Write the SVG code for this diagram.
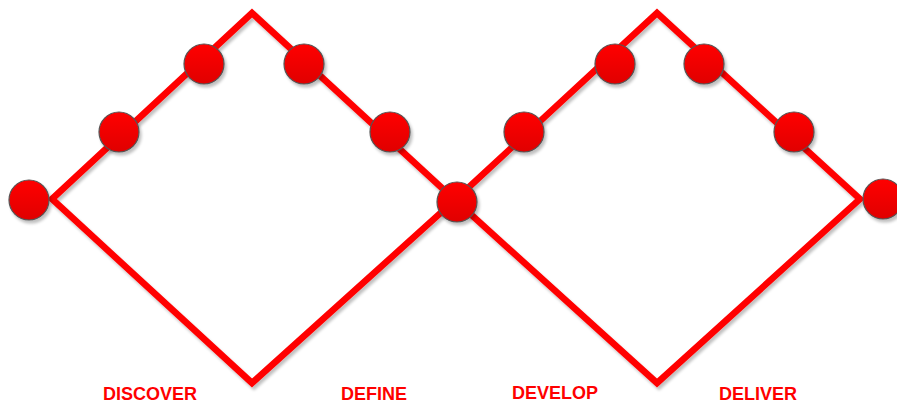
<svg xmlns="http://www.w3.org/2000/svg" width="897" height="403" viewBox="0 0 897 403">
<defs>
<linearGradient id="g" x1="0" y1="0" x2="0" y2="1">
<stop offset="0" stop-color="#ff0000"/>
<stop offset="1" stop-color="#e00000"/>
</linearGradient>
<filter id="sh" x="-30%" y="-30%" width="160%" height="160%">
<feGaussianBlur in="SourceAlpha" stdDeviation="1.5"/>
<feOffset dx="2" dy="3" result="b"/>
<feComponentTransfer><feFuncA type="linear" slope="0.25"/></feComponentTransfer>
<feMerge><feMergeNode/><feMergeNode in="SourceGraphic"/></feMerge>
</filter>
</defs>
<style>
.ln{fill:none;stroke:#ff0000;stroke-width:6.5;stroke-linejoin:miter}
.nd{fill:url(#g);stroke:#555555;stroke-width:1.2}
.lb{font-family:"Liberation Sans",Arial,sans-serif;font-weight:bold;font-size:18px;fill:#ff0000}
</style>
<rect width="897" height="403" fill="#ffffff"/>
<g id="connectors" filter="url(#sh)">
<path class="ln" d="M52,199 L252,13 L455,200 L252,383 Z"/>
<path class="ln" d="M455,200 L657,13 L860,199 L657,383 Z"/>
</g>
<g filter="url(#sh)">
<g id="n1"><circle class="nd" cx="29" cy="200" r="20"/></g>
<g id="n2"><circle class="nd" cx="119" cy="132" r="20"/></g>
<g id="n3"><circle class="nd" cx="204" cy="64" r="20"/></g>
<g id="n4"><circle class="nd" cx="304" cy="64" r="20"/></g>
<g id="n5"><circle class="nd" cx="390" cy="132" r="20"/></g>
<g id="n6"><circle class="nd" cx="457" cy="202" r="20"/></g>
<g id="n7"><circle class="nd" cx="524" cy="132" r="20"/></g>
<g id="n8"><circle class="nd" cx="615" cy="64" r="20"/></g>
<g id="n9"><circle class="nd" cx="704" cy="64" r="20"/></g>
<g id="n10"><circle class="nd" cx="794" cy="132" r="20"/></g>
<g id="n11"><circle class="nd" cx="883" cy="199" r="20"/></g>
</g>
<g id="labels">
<text class="lb" x="103" y="400">DISCOVER</text>
<text class="lb" x="341" y="400">DEFINE</text>
<text class="lb" x="512" y="399">DEVELOP</text>
<text class="lb" x="719" y="400">DELIVER</text>
</g>
</svg>
